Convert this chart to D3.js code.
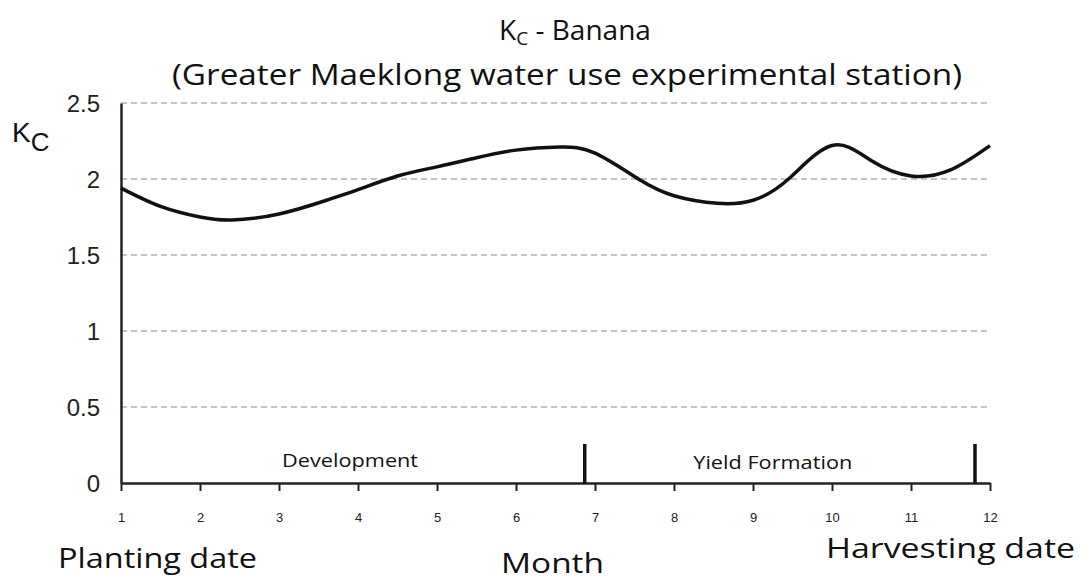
<!DOCTYPE html>
<html>
<head>
<meta charset="utf-8">
<script src="https://cdn.jsdelivr.net/npm/d3@7"></script>
<style>
  body { margin: 0; background: #fff; }
  .title { font-family: "Open Sans", sans-serif; fill: #111; }
  .tick text { font-family: "Liberation Sans", Arial, sans-serif; fill: #222; }
  .grid line { stroke: #8a8a8a; stroke-dasharray: 6,4; }
</style>
</head>
<body>
<div class="chart"></div>
<script>
// DATA ---------------------------------------------------------------
const months = [1, 1.5, 2, 2.4, 3, 3.6, 4, 4.5, 5, 5.5, 6, 6.55, 7, 7.55, 8, 8.55, 9, 9.45, 10, 10.5, 11, 11.5, 12];
const kc = [1.94, 1.82, 1.75, 1.73, 1.77, 1.86, 1.93, 2.02, 2.08, 2.14, 2.19, 2.21, 2.17, 2.0, 1.89, 1.84, 1.86, 2.0, 2.22, 2.12, 2.02, 2.06, 2.22];
const xTicks = [1, 2, 3, 4, 5, 6, 7, 8, 9, 10, 11, 12];
const yTicks = [0, 0.5, 1, 1.5, 2, 2.5];
const stageNames = ['Development', 'Yield Formation'];
const stageCenters = [3.9, 9.25];
const stageEnds = [6.87, 11.81];

// CHART INIT ---------------------------------------------------------
const W = 1087, H = 581;
const margin = ({top: 103, right: 97, bottom: 98, left: 121});
const width = W - margin.left - margin.right;
const height = H - margin.top - margin.bottom;

const root = d3.select('.chart')
    .append('svg')
    .attr('width', W)
    .attr('height', H);

const svg = root.append('g')
    .attr('transform', 'translate(' + margin.left + ',' + margin.top + ')');

const xScale = d3.scaleLinear().domain([1, 12]).range([0, width]);
const yScale = d3.scaleLinear().domain([0, 2.5]).range([height, 0]);

// dashed grid
svg.append('g')
    .attr('class', 'grid')
    .selectAll('line')
    .data(yTicks.filter(d => d > 0))
    .join('line')
    .attr('x1', 0)
    .attr('x2', width + 1)
    .attr('y1', d => yScale(d))
    .attr('y2', d => yScale(d));

// axes
const xAxis = d3.axisBottom(xScale).tickValues(xTicks).tickSize(8).tickPadding(22).tickSizeOuter(0);
const yAxis = d3.axisLeft(yScale).tickValues(yTicks).tickSize(0).tickPadding(21).tickFormat(d => d);

const gx = svg.append('g')
    .attr('class', 'axis x-axis')
    .attr('transform', 'translate(0,' + height + ')')
    .call(xAxis);
gx.select('.domain').attr('stroke', '#222').attr('stroke-width', 2.5);
gx.selectAll('.tick line').attr('stroke', '#222').attr('stroke-width', 2);
gx.selectAll('.tick text').attr('font-size', 13);

const gy = svg.append('g')
    .attr('class', 'axis y-axis')
    .call(yAxis);
gy.select('.domain').attr('stroke', '#222').attr('stroke-width', 2.5);
gy.selectAll('.tick text').attr('font-size', 24).attr('dy', '0.35em');

// stage markers
svg.selectAll('.stage-end')
    .data(stageEnds)
    .join('line')
    .attr('class', 'stage-end')
    .attr('x1', d => xScale(d))
    .attr('x2', d => xScale(d))
    .attr('y1', yScale(0.257))
    .attr('y2', yScale(0))
    .attr('stroke', '#111')
    .attr('stroke-width', 3.5);

svg.selectAll('.stage-name')
    .data(stageNames)
    .join('text')
    .attr('class', 'stage-name title')
    .attr('x', (d, i) => xScale(stageCenters[i]))
    .attr('y', (d, i) => yScale(i ? 0.092 : 0.105))
    .attr('text-anchor', 'middle')
    .attr('font-size', 19)
    .attr('textLength', (d, i) => i ? 159 : 136)
    .attr('lengthAdjust', 'spacingAndGlyphs')
    .text(d => d);

// Kc curve
const line = d3.line()
    .x((d, i) => xScale(months[i]))
    .y(d => yScale(d))
    .curve(d3.curveNatural);

svg.append('path')
    .datum(kc)
    .attr('d', line)
    .attr('fill', 'none')
    .attr('stroke', '#111')
    .attr('stroke-width', 3.5);

// TITLES -------------------------------------------------------------
const t1 = root.append('text')
    .attr('class', 'title')
    .attr('x', 575)
    .attr('y', 40)
    .attr('text-anchor', 'middle')
    .attr('font-size', 28);
t1.append('tspan').text('K');
t1.append('tspan').attr('font-size', 19).attr('dy', 5).text('C');
t1.append('tspan').attr('dy', -5).text(' - Banana');

root.append('text')
    .attr('class', 'title')
    .attr('x', 567)
    .attr('y', 85)
    .attr('text-anchor', 'middle')
    .attr('font-size', 29)
    .attr('textLength', 790)
    .attr('lengthAdjust', 'spacingAndGlyphs')
    .text('(Greater Maeklong water use experimental station)');

const yl = root.append('text')
    .attr('class', 'y-axis-title')
    .attr('x', 12)
    .attr('y', 142)
    .attr('font-family', 'Liberation Sans, Arial, sans-serif')
    .attr('font-size', 28)
    .attr('fill', '#111');
yl.append('tspan').text('K');
yl.append('tspan').attr('dy', 9).attr('font-size', 26).text('C');

root.append('text')
    .attr('class', 'title')
    .attr('x', 58)
    .attr('y', 568)
    .attr('font-size', 28)
    .attr('textLength', 199)
    .attr('lengthAdjust', 'spacingAndGlyphs')
    .text('Planting date');

root.append('text')
    .attr('class', 'title')
    .attr('x', 501)
    .attr('y', 573)
    .attr('font-size', 28)
    .attr('textLength', 103)
    .attr('lengthAdjust', 'spacingAndGlyphs')
    .text('Month');

root.append('text')
    .attr('class', 'title')
    .attr('x', 826)
    .attr('y', 558)
    .attr('font-size', 28)
    .attr('textLength', 249)
    .attr('lengthAdjust', 'spacingAndGlyphs')
    .text('Harvesting date');
</script>
</body>
</html>
